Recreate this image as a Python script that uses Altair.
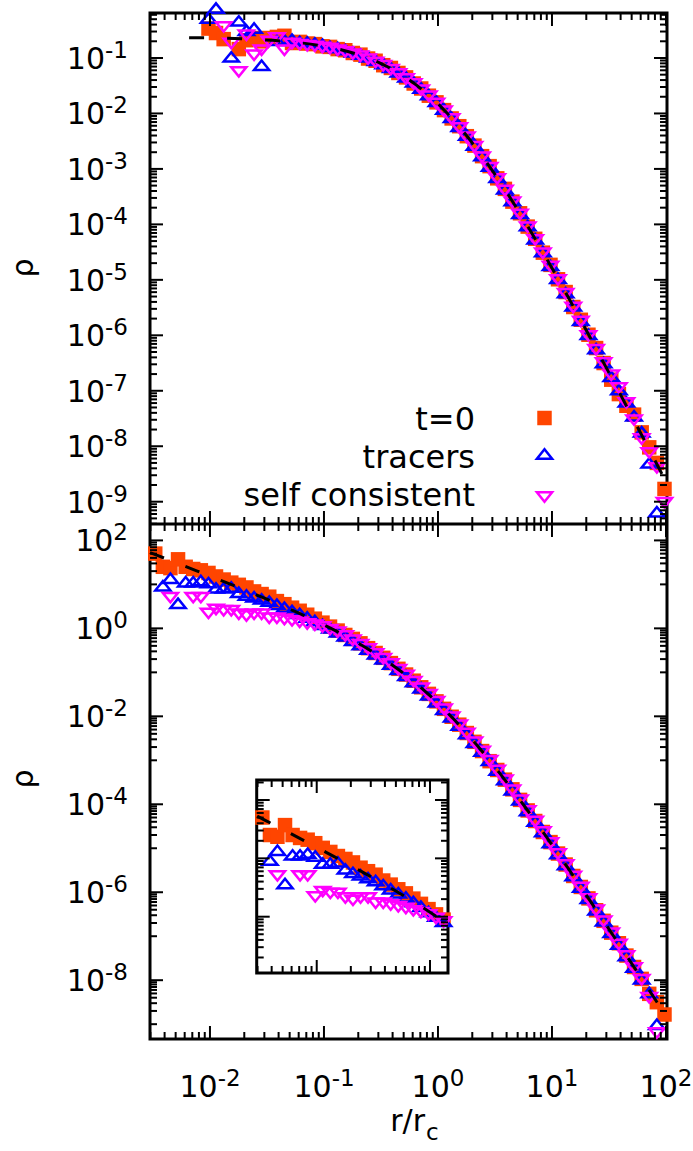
import altair as alt
import pandas as pd

FONT = "DejaVu Sans"
ORANGE = "#ff4500"
BLUE = "#0000ff"
MAGENTA = "#ff00ff"

# ---------------- data (log10 values) ----------------
# bin centres, log10(r/r_c)
log_r = [-2.480, -2.413, -2.347, -2.280, -2.213, -2.147, -2.080, -2.013, -1.947, -1.880,
         -1.813, -1.747, -1.680, -1.613, -1.547, -1.480, -1.413, -1.347, -1.280, -1.213,
         -1.147, -1.080, -1.013, -0.947, -0.880, -0.813, -0.747, -0.680, -0.613, -0.547,
         -0.480, -0.413, -0.347, -0.280, -0.213, -0.147, -0.080, -0.013, 0.053, 0.120,
         0.187, 0.253, 0.320, 0.387, 0.453, 0.520, 0.587, 0.653, 0.720, 0.787,
         0.853, 0.920, 0.987, 1.053, 1.120, 1.187, 1.253, 1.320, 1.387, 1.453,
         1.520, 1.587, 1.653, 1.720, 1.787, 1.853, 1.920, 1.987]

# top panel, log10 rho
top_t0 = [None, None, None, None, None, None, None, -0.47, -0.55, -0.66,
          None, -0.84, -0.68, -0.64, -0.70, -0.64, -0.62, -0.60, -0.73, -0.71,
          -0.74, -0.75, -0.79, -0.80, -0.84, -0.86, -0.91, -0.94, -1.01, -1.05,
          -1.13, -1.18, -1.27, -1.35, -1.46, -1.55, -1.68, -1.80, -1.94, -2.09,
          -2.23, -2.41, -2.58, -2.77, -2.95, -3.17, -3.36, -3.59, -3.80, -4.04,
          -4.26, -4.51, -4.73, -4.99, -5.22, -5.49, -5.72, -5.99, -6.23, -6.50,
          -6.80, -7.06, -7.27, -7.43, -7.75, -8.02, -8.30, -8.77]
top_tr = [None, None, None, None, None, None, None, -0.28, -0.10, None,
          -0.98, -0.33, -0.50, -0.46, -1.13, None, -0.68, -0.67, -0.66, -0.70,
          -0.71, -0.73, -0.75, -0.79, -0.81, -0.85, -0.89, -0.93, -0.98, -1.04,
          -1.10, -1.17, -1.25, -1.34, -1.43, -1.54, -1.66, -1.78, -1.92, -2.07,
          -2.23, -2.39, -2.57, -2.76, -2.95, -3.15, -3.36, -3.57, -3.80, -4.02,
          -4.26, -4.49, -4.74, -4.97, -5.23, -5.47, -5.73, -5.98, -6.24, -6.49,
          -6.74, -6.98, -7.20, -7.45, -7.74, -8.30, -9.18, None]
top_sc = [None, None, None, None, None, None, None, None, None, -0.44,
          -0.74, -1.25, -0.59, -0.95, -0.86, -0.70, -0.64, -0.86, -0.74, -0.76,
          -0.78, -0.79, -0.81, -0.83, -0.86, -0.89, -0.93, -0.97, -1.02, -1.08,
          -1.14, -1.21, -1.29, -1.38, -1.47, -1.58, -1.69, -1.82, -1.96, -2.10,
          -2.26, -2.43, -2.60, -2.79, -2.98, -3.18, -3.39, -3.60, -3.82, -4.05,
          -4.28, -4.52, -4.76, -5.00, -5.25, -5.50, -5.75, -6.01, -6.26, -6.50,
          -6.72, -6.95, -7.22, -7.53, -7.87, -8.12, -8.39, -9.02]

# bottom panel, log10 rho
bot_t0 = [1.70, 1.40, 1.37, 1.57, 1.40, 1.35, 1.32, 1.26, 1.18, 1.11,
          1.04, 0.99, 0.93, 0.84, 0.78, 0.72, 0.62, 0.55, 0.47, 0.40,
          0.31, 0.22, 0.13, 0.04, -0.05, -0.15, -0.24, -0.34, -0.45, -0.56,
          -0.67, -0.79, -0.92, -1.05, -1.19, -1.34, -1.49, -1.66, -1.83, -2.01,
          -2.19, -2.38, -2.58, -2.79, -3.02, -3.22, -3.44, -3.66, -3.90, -4.14,
          -4.38, -4.63, -4.86, -5.12, -5.37, -5.63, -5.88, -6.14, -6.41, -6.65,
          -6.92, -7.16, -7.44, -7.70, -7.97, -8.31, -8.50, -8.78]
bot_tr = [None, 0.97, 1.14, 0.57, 1.06, 1.06, 1.09, 1.04, 0.92, 0.92,
          0.94, 0.82, 0.76, 0.72, 0.67, 0.62, 0.55, 0.48, 0.41, 0.34,
          0.26, 0.18, 0.09, 0.01, -0.08, -0.17, -0.27, -0.37, -0.47, -0.58,
          -0.69, -0.81, -0.93, -1.07, -1.21, -1.35, -1.51, -1.67, -1.84, -2.01,
          -2.20, -2.39, -2.59, -2.79, -3.00, -3.22, -3.44, -3.67, -3.90, -4.14,
          -4.38, -4.62, -4.87, -5.12, -5.37, -5.62, -5.88, -6.14, -6.40, -6.65,
          -6.91, -7.18, -7.44, -7.70, -7.97, -8.28, -9.00, None]
bot_sc = [None, None, 0.70, None, None, 0.70, 0.70, 0.34, 0.43, 0.40,
          0.40, 0.32, 0.28, 0.32, 0.32, 0.23, 0.23, 0.20, 0.17, 0.14,
          0.10, 0.07, 0.03, -0.03, -0.09, -0.17, -0.27, -0.37, -0.47, -0.58,
          -0.69, -0.81, -0.94, -1.07, -1.21, -1.36, -1.51, -1.67, -1.84, -2.02,
          -2.20, -2.39, -2.59, -2.80, -3.01, -3.23, -3.45, -3.68, -3.91, -4.15,
          -4.39, -4.63, -4.88, -5.13, -5.38, -5.64, -5.89, -6.15, -6.41, -6.66,
          -6.93, -7.19, -7.45, -7.72, -7.99, -8.40, -9.20, None]

# model curves (dashed), log10 r and log10 rho
top_line_r = [-2.183, -2.117, -2.05, -1.983, -1.917, -1.85, -1.783, -1.717, -1.65, -1.583,
              -1.517, -1.45, -1.383, -1.317, -1.25, -1.183, -1.117, -1.05, -0.983, -0.917,
              -0.85, -0.783, -0.717, -0.65, -0.583, -0.517, -0.45, -0.383, -0.317, -0.25,
              -0.183, -0.117, -0.05, 0.017, 0.083, 0.15, 0.217, 0.283, 0.35, 0.417,
              0.483, 0.55, 0.617, 0.683, 0.75, 0.817, 0.883, 0.95, 1.017, 1.083,
              1.15, 1.217, 1.283, 1.35, 1.417, 1.483, 1.55, 1.617, 1.683, 1.75,
              1.817, 1.883, 1.95, 2.0]
top_line_v = [-0.633, -0.635, -0.637, -0.640, -0.643, -0.646, -0.650, -0.655, -0.660, -0.667,
              -0.674, -0.682, -0.692, -0.704, -0.717, -0.732, -0.750, -0.770, -0.794, -0.821,
              -0.851, -0.887, -0.927, -0.973, -1.025, -1.083, -1.150, -1.224, -1.305, -1.397,
              -1.498, -1.608, -1.729, -1.860, -2.000, -2.152, -2.314, -2.483, -2.664, -2.853,
              -3.048, -3.253, -3.466, -3.682, -3.906, -4.136, -4.368, -4.607, -4.850, -5.092,
              -5.341, -5.592, -5.842, -6.098, -6.355, -6.610, -6.870, -7.132, -7.390, -7.652,
              -7.916, -8.176, -8.442, -8.639]
bot_line_r = [-2.526, -2.45, -2.383, -2.317, -2.25, -2.183, -2.117, -2.05, -1.983, -1.917,
              -1.85, -1.783, -1.717, -1.65, -1.583, -1.517, -1.45, -1.383, -1.317, -1.25,
              -1.183, -1.117, -1.05, -0.983, -0.917, -0.85, -0.783, -0.717, -0.65, -0.583,
              -0.517, -0.45, -0.383, -0.317, -0.25, -0.183, -0.117, -0.05, 0.017, 0.083,
              0.15, 0.217, 0.283, 0.35, 0.417, 0.483, 0.55, 0.617, 0.683, 0.75,
              0.817, 0.883, 0.95, 1.017, 1.083, 1.15, 1.217, 1.283, 1.35, 1.417,
              1.483, 1.55, 1.617, 1.683, 1.75, 1.817, 1.883, 1.95, 2.0]
bot_line_v = [1.724, 1.647, 1.580, 1.513, 1.445, 1.377, 1.309, 1.240, 1.172, 1.103,
              1.034, 0.964, 0.894, 0.823, 0.751, 0.680, 0.607, 0.532, 0.457, 0.381,
              0.302, 0.223, 0.141, 0.056, -0.030, -0.120, -0.214, -0.310, -0.411, -0.517,
              -0.627, -0.744, -0.866, -0.993, -1.129, -1.272, -1.420, -1.578, -1.744, -1.915,
              -2.096, -2.284, -2.477, -2.680, -2.888, -3.101, -3.321, -3.548, -3.776, -4.011,
              -4.251, -4.490, -4.737, -4.986, -5.234, -5.487, -5.743, -5.996, -6.255, -6.515,
              -6.772, -7.034, -7.297, -7.557, -7.821, -8.086, -8.347, -8.613, -8.811]

legend_labels = ["t=0", "tracers", "self consistent"]
top_exps = [-1, -2, -3, -4, -5, -6, -7, -8, -9]
bot_exps = [2, 0, -2, -4, -6, -8]
x_exps = [-2, -1, 0, 1, 2]

for lst in (top_t0, top_tr, top_sc, bot_t0, bot_tr, bot_sc):
    assert len(lst) == len(log_r), len(lst)
assert len(top_line_r) == len(top_line_v)
assert len(bot_line_r) == len(bot_line_v)

# ---------------- layout ----------------
W, H, HT = 517, 1026, 511
TL, TS = 13, 7
LBL, EXP = 30, 23
TEN_W = 38.2  # width of "10" at LBL size

X_DOM = [10 ** -2.526, 10 ** 2.009]
YT_DOM = [10 ** -9.402, 10 ** -0.189]
YB_DOM = [10 ** -9.337, 10 ** 2.373]
XI_DOM = [10 ** -2.53, 10 ** -0.841]
YI_DOM = [10 ** -0.965, 10 ** 2.343]
XI_R = [106.7, 298.0]
YI_R = [960.0, 767.0]

xs = alt.Scale(type="log", domain=X_DOM, nice=False)
yts = alt.Scale(type="log", domain=YT_DOM, range=[HT, 0], nice=False)
ybs = alt.Scale(type="log", domain=YB_DOM, range=[H, HT], nice=False)
xis = alt.Scale(type="log", domain=XI_DOM, range=XI_R, nice=False)
yis = alt.Scale(type="log", domain=YI_DOM, range=YI_R, nice=False)

UP = "M-1,0.62L1,0.62L0,-0.62Z"
DOWN = "M-1,-0.62L1,-0.62L0,0.62Z"
SQ_SIZE, TRI_SIZE, TRI_SW = 210, 230, 2.5


def points(vals, xsc, ysc, kind, rmax=None):
    rows = [(10 ** lr, 10 ** v) for lr, v in zip(log_r, vals)
            if v is not None and (rmax is None or lr <= rmax)]
    df = pd.DataFrame(rows, columns=["r", "rho"])
    c = alt.Chart(df)
    if kind == "t0":
        m = c.mark_point(shape="square", filled=True, size=SQ_SIZE, color=ORANGE, opacity=1, strokeWidth=0)
    elif kind == "tr":
        m = c.mark_point(shape=UP, filled=False, size=TRI_SIZE, color=BLUE, opacity=1, strokeWidth=TRI_SW)
    else:
        m = c.mark_point(shape=DOWN, filled=False, size=TRI_SIZE, color=MAGENTA, opacity=1, strokeWidth=TRI_SW)
    return m.encode(x=alt.X("r:Q", scale=xsc, axis=None), y=alt.Y("rho:Q", scale=ysc, axis=None))


def model_line(lr, lv, xsc, ysc, rmax=None):
    rows = [(10 ** a, 10 ** b) for a, b in zip(lr, lv) if rmax is None or a <= rmax]
    df = pd.DataFrame(rows, columns=["r", "rho"])
    return alt.Chart(df).mark_line(color="black", strokeWidth=3, strokeDash=[15, 23]).encode(
        x=alt.X("r:Q", scale=xsc, axis=None), y=alt.Y("rho:Q", scale=ysc, axis=None))


def yticks(vals, ysc, x0, x1):
    df = pd.DataFrame({"v": vals})
    return alt.Chart(df).mark_rule(color="black", strokeWidth=2).encode(
        y=alt.Y("v:Q", scale=ysc, axis=None), x=alt.value(x0), x2=alt.value(x1))


def xticks(vals, xsc, y0, y1):
    df = pd.DataFrame({"v": vals})
    return alt.Chart(df).mark_rule(color="black", strokeWidth=2).encode(
        x=alt.X("v:Q", scale=xsc, axis=None), y=alt.value(y0), y2=alt.value(y1))


def within(vals, dom):
    return [v for v in vals if dom[0] <= v <= dom[1]]


def log_minors(exps, ms, dom):
    return within([m * 10.0 ** e for e in exps for m in ms], dom)


def box_ticks(xmaj, xmin, ymaj, ymin, xsc, ysc, x0, x1, y0, y1):
    # x0 left, x1 right, y0 top, y1 bottom (pixels)
    return [
        yticks(ymaj, ysc, x0, x0 + TL), yticks(ymin, ysc, x0, x0 + TS),
        yticks(ymaj, ysc, x1, x1 - TL), yticks(ymin, ysc, x1, x1 - TS),
        xticks(xmaj, xsc, y0, y0 + TL), xticks(xmin, xsc, y0, y0 + TS),
        xticks(xmaj, xsc, y1, y1 - TL), xticks(xmin, xsc, y1, y1 - TS),
    ]


EXP_W = {True: 23.0, False: 14.6}
YLAB_R = -22


def y_labels(exps, ysc):
    out = []
    for neg in (True, False):
        sel = [e for e in exps if (e < 0) == neg]
        if not sel:
            continue
        df = pd.DataFrame({"v": [10.0 ** e for e in sel], "b": ["10"] * len(sel), "e": [str(e) for e in sel]})
        out.append(alt.Chart(df).mark_text(align="right", baseline="alphabetic", font=FONT, fontSize=LBL,
                                           dy=11, color="black").encode(
            y=alt.Y("v:Q", scale=ysc, axis=None), x=alt.value(YLAB_R - EXP_W[neg]), text="b:N"))
        out.append(alt.Chart(df).mark_text(align="right", baseline="alphabetic", font=FONT, fontSize=EXP,
                                           dy=0, color="black").encode(
            y=alt.Y("v:Q", scale=ysc, axis=None), x=alt.value(YLAB_R), text="e:N"))
    return out


def x_labels(exps, xsc, ybase):
    out = []
    for neg in (True, False):
        sel = [e for e in exps if (e < 0) == neg]
        if not sel:
            continue
        df = pd.DataFrame({"v": [10.0 ** e for e in sel], "b": ["10"] * len(sel), "e": [str(e) for e in sel]})
        total = TEN_W + EXP_W[neg]
        out.append(alt.Chart(df).mark_text(align="right", baseline="alphabetic", font=FONT, fontSize=LBL,
                                           dx=total / 2 - EXP_W[neg], color="black").encode(
            x=alt.X("v:Q", scale=xsc, axis=None), y=alt.value(ybase), text="b:N"))
        out.append(alt.Chart(df).mark_text(align="right", baseline="alphabetic", font=FONT, fontSize=EXP,
                                           dx=total / 2, color="black").encode(
            x=alt.X("v:Q", scale=xsc, axis=None), y=alt.value(ybase - 11), text="e:N"))
    return out


def text_at(txt, x, y, size=LBL, align="center", baseline="alphabetic", angle=0):
    df = pd.DataFrame({"t": [txt]})
    kw = dict(align=align, baseline=baseline, font=FONT, fontSize=size, color="black")
    if angle:
        kw["angle"] = angle
    return alt.Chart(df).mark_text(**kw).encode(x=alt.value(x), y=alt.value(y), text="t:N")


# tick positions
x_maj = [10.0 ** e for e in x_exps]
x_min = log_minors(range(-3, 2), range(2, 10), X_DOM)
yt_maj = [10.0 ** e for e in top_exps]
yt_min = log_minors(range(-10, 0), range(2, 10), YT_DOM)
yb_maj = [10.0 ** e for e in bot_exps]
yb_min = log_minors([1, -1, -3, -5, -7, -9], range(1, 10), YB_DOM)
xi_maj = [1e-2, 1e-1]
xi_min = log_minors([-3, -2, -1], range(2, 10), XI_DOM)
yi_maj = [1.0, 10.0, 100.0]
yi_min = log_minors([-1, 0, 1, 2], range(2, 10), YI_DOM)

# ---------------- top panel ----------------
LEG_X_TXT, LEG_X_SYM = 325, 394.5
leg_df = pd.DataFrame({"t": ["s"]})
legend = [
    text_at(legend_labels[0], LEG_X_TXT, 417, size=32, align="right"),
    text_at(legend_labels[1], LEG_X_TXT, 455, size=32, align="right"),
    text_at(legend_labels[2], LEG_X_TXT, 493, size=32, align="right"),
    alt.Chart(leg_df).mark_point(shape="square", filled=True, size=SQ_SIZE, color=ORANGE, opacity=1,
                                 strokeWidth=0).encode(x=alt.value(LEG_X_SYM), y=alt.value(405)),
    alt.Chart(leg_df).mark_point(shape=UP, filled=False, size=TRI_SIZE, color=BLUE, opacity=1,
                                 strokeWidth=TRI_SW).encode(x=alt.value(LEG_X_SYM), y=alt.value(441)),
    alt.Chart(leg_df).mark_point(shape=DOWN, filled=False, size=TRI_SIZE, color=MAGENTA, opacity=1,
                                 strokeWidth=TRI_SW).encode(x=alt.value(LEG_X_SYM), y=alt.value(484)),
]

top = alt.layer(
    points(top_t0, xs, yts, "t0"),
    points(top_tr, xs, yts, "tr"),
    points(top_sc, xs, yts, "sc"),
    model_line(top_line_r, top_line_v, xs, yts),
    *box_ticks(x_maj, x_min, yt_maj, yt_min, xs, yts, 0, W, 0, HT),
    *y_labels(top_exps, yts),
    *legend,
    text_at("ρ", -126, 255, angle=270, baseline="middle"),
)

# ---------------- bottom panel ----------------
bottom = alt.layer(
    points(bot_t0, xs, ybs, "t0"),
    points(bot_tr, xs, ybs, "tr"),
    points(bot_sc, xs, ybs, "sc"),
    model_line(bot_line_r, bot_line_v, xs, ybs),
    *box_ticks(x_maj, x_min, yb_maj, yb_min, xs, ybs, 0, W, HT, H),
    alt.Chart(pd.DataFrame({"t": ["b"]})).mark_rule(color="black", strokeWidth=3).encode(
        x=alt.value(0), x2=alt.value(W), y=alt.value(HT)),
    *y_labels(bot_exps, ybs),
    *x_labels(x_exps, xs, 1084),
    text_at("ρ", -126, 766, angle=270, baseline="middle"),
    text_at("r/r", 275, 1118, align="right"),
    text_at("c", 276, 1127, size=EXP, align="left"),
)

# ---------------- inset ----------------
RMAX_I = -0.86
box_df = pd.DataFrame({"x": [XI_DOM[0]], "x2": [XI_DOM[1]], "y": [YI_DOM[0]], "y2": [YI_DOM[1]]})
inset_box = alt.Chart(box_df).mark_rect(fill="white", stroke="black", strokeWidth=3).encode(
    x=alt.X("x:Q", scale=xis, axis=None), x2="x2:Q",
    y=alt.Y("y:Q", scale=yis, axis=None), y2="y2:Q")

inset = alt.layer(
    inset_box,
    points(bot_t0, xis, yis, "t0", rmax=RMAX_I),
    points(bot_tr, xis, yis, "tr", rmax=RMAX_I),
    points(bot_sc, xis, yis, "sc", rmax=RMAX_I),
    model_line(bot_line_r, bot_line_v, xis, yis, rmax=-0.84),
    *box_ticks(xi_maj, xi_min, yi_maj, yi_min, xis, yis, XI_R[0], XI_R[1], YI_R[1], YI_R[0]),
)

chart = alt.layer(top, bottom, inset).resolve_scale(
    x="independent", y="independent"
).properties(
    width=W, height=H,
    padding={"left": 150, "top": 13, "right": 26, "bottom": 112},
    autosize=alt.AutoSizeParams(type="none"),
    background="white",
).configure_view(stroke="black", strokeWidth=3)

chart.save("out.html", embed_options={"renderer": "svg", "actions": False})
